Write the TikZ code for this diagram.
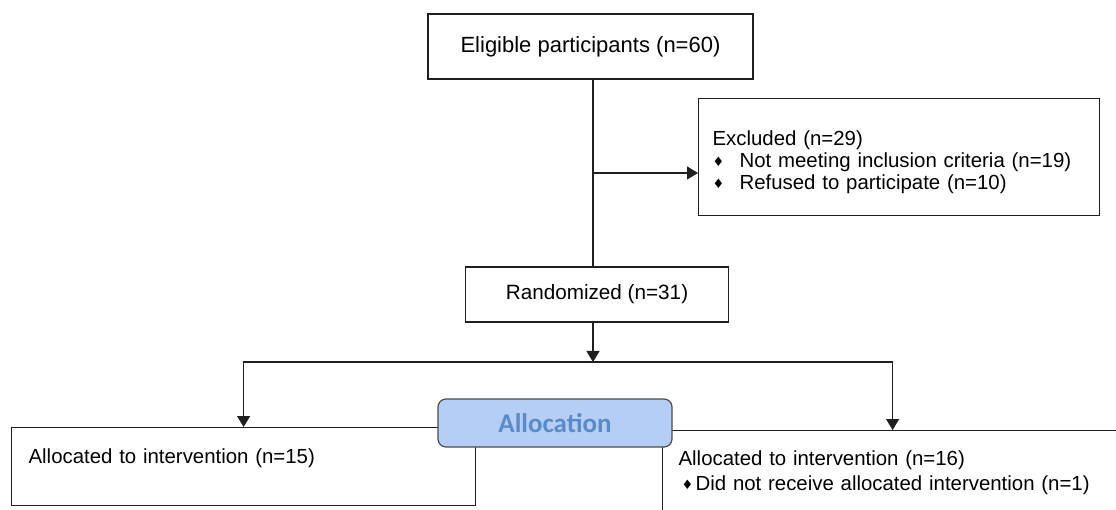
\documentclass[tikz,border=0pt]{standalone}
\usepackage{fontspec}
\setmainfont{Liberation Sans}
\newfontfamily\dejavu{DejaVu Sans}
\newfontfamily\carlito{Carlito}
\usetikzlibrary{arrows.meta}
\definecolor{allocfill}{HTML}{B4CEF5}
\definecolor{alloctext}{HTML}{5B8BC6}
\definecolor{lineclr}{HTML}{1F1F1F}
\newcommand{\bul}{\raisebox{1.5pt}{\dejavu\fontsize{13}{13}\selectfont ♦}}

\begin{document}
\begin{tikzpicture}[x=1pt,y=-1pt,
    box/.style={draw=lineclr,line width=1.2pt,inner ysep=0pt,font=\fontsize{20.4}{22}\selectfont},
    arr/.style={-{Triangle[width=13pt,length=11pt]},line width=1.2pt,draw=lineclr}]
            \useasboundingbox (0,0) rectangle (1116,510);
            \clip (0,0) rectangle (1116,510);

            \node[box,minimum width=325pt,minimum height=65pt,font=\fontsize{22}{24}\selectfont] (elig) at (590.5,46.5) {Eligible participants (n=60)};
            \node[box,anchor=north west,align=left,text width=373pt,inner xsep=14pt,text height=47pt,text depth=70pt] (excl) at (698,98)
                {Excluded (n=29)\\ \makebox[27pt][l]{\bul}Not meeting inclusion criteria (n=19)\\ \makebox[27pt][l]{\bul}Refused to participate (n=10)};
            \node[box,minimum width=263pt,minimum height=55pt,font=\fontsize{20.7}{22}\selectfont] (rand) at (597,294.5) {Randomized (n=31)};

            \node[box,anchor=north west,align=left,text width=430pt,inner xsep=17pt,text height=36pt,text depth=42pt] (interv1) at (11,427)
                {Allocated to intervention (n=15)};
            \node[box,anchor=north west,align=left,text width=428pt,inner xsep=16pt,text height=35pt,text depth=47pt,font=\fontsize{20.4}{25}\selectfont] (interv2) at (662,430)
                {Allocated to intervention (n=16)\\ \hspace*{3pt}\makebox[14pt][l]{\bul}Did not receive allocated intervention (n=1)};

            \coordinate (branch) at (593,173);
            \coordinate (split) at (593,362);
            \draw[line width=1.2pt,draw=lineclr] (elig.south -| split) -- (rand.north -| split);
            \draw[arr] (branch) -- (branch -| excl.west);
            \draw[arr] (rand.south -| split) -- (split);
            \draw[arr] (split) -| (interv1.north);
            \draw[arr] (split) -| (interv2.north);

            \node[draw=lineclr!80,fill=allocfill,rounded corners=8pt,line width=1.2pt,minimum width=234pt,minimum height=48pt,
                text=alloctext,font=\carlito\bfseries\fontsize{27}{27}\selectfont] (alloc) at (555,423) {Allocation};
        \end{tikzpicture}
\end{document}
